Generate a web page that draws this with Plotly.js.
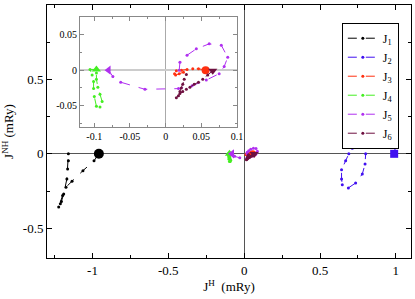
<!DOCTYPE html>
<html><head><meta charset="utf-8">
<script src="https://cdn.plot.ly/plotly-3.0.1.min.js"></script>
<style>html,body{margin:0;padding:0;background:#fff}#c{width:415px;height:299px}</style>
</head><body><div id="c"></div>
<script>
const names = ["J<sub>1</sub>","J<sub>2</sub>","J<sub>3</sub>","J<sub>4</sub>","J<sub>5</sub>","J<sub>6</sub>"];
const colors = ["#000000","#4010f0","#ff3010","#44ee22","#b030f0","#6e1040"];
const startSymbols = ["circle","square","circle","triangle-up","triangle-left","triangle-down"];

const J1_x = [-0.958,-0.99,-1.063,-1.135,-1.175,-1.197,-1.212,-1.223,-1.205,-1.19,-1.169,-1.164,-1.159,-1.159];
const J1_y = [0,-0.047,-0.113,-0.184,-0.224,-0.28,-0.335,-0.357,-0.32,-0.27,-0.169,-0.102,-0.047,0];
const J2_x = [0.989,0.996,0.982,0.94,0.90,0.85,0.80,0.753,0.713,0.69,0.669,0.642,0.642,0.647,0.687,0.735,0.779,0.797,0.801];
const J2_y = [0,0.04,0.08,0.142,0.142,0.135,0.109,0.076,0.038,0,-0.047,-0.107,-0.169,-0.207,-0.229,-0.196,-0.136,-0.069,0];
const J3_x = [0.056,0.046,0.038,0.030,0.022,0.015,0.0125,0.014,0.019,0.025];
const J3_y = [0,0.002,0.002,0.001,0.0,-0.001,-0.005,-0.007,-0.005,-0.003];
const J4_x = [-0.097,-0.106,-0.103,-0.101,-0.101,-0.100,-0.097,-0.092,-0.089,-0.092,-0.095,-0.097,-0.097];
const J4_y = [0.001,0.001,-0.007,-0.016,-0.026,-0.037,-0.051,-0.052,-0.044,-0.034,-0.024,-0.013,-0.004];
const J5_x = [-0.080,-0.074,-0.063,-0.029,0.018,0.037,0.057,0.075,0.082,0.087,0.078,0.061,0.043,0.030,0.020,0.019];
const J5_y = [0,-0.009,-0.017,-0.027,-0.026,-0.022,-0.014,-0.005,0.005,0.018,0.035,0.037,0.030,0.021,0.011,0.0];
const J6_x = [0.066,0.059,0.052,0.046,0.040,0.034,0.029,0.024,0.020,0.015,0.018,0.020,0.022,0.024,0.026,0.029];
const J6_y = [-0.001,-0.007,-0.013,-0.017,-0.020,-0.024,-0.027,-0.030,-0.033,-0.039,-0.036,-0.030,-0.025,-0.020,-0.013,-0.006];

const xs = [J1_x,J2_x,J3_x,J4_x,J5_x,J6_x];
const ys = [J1_y,J2_y,J3_y,J4_y,J5_y,J6_y];
const bigSize = [10,8,7,8,8,8];
const insetBigSize = [10,8,8,8,8,8];

const mainTickVals = [-1,-0.5,0,0.5,1];
const mainTickText = ["-1","-0.5","0","0.5","1"];
const mainYTickVals = [-0.5,0,0.5];
const mainYTickText = ["-0.5","0","0.5"];
const insetXTickVals = [-0.1,-0.05,0,0.05,0.1];
const insetXTickText = ["-0.1","-0.05","0","0.05","0.1"];
const insetYTickVals = [-0.05,0,0.05];
const insetYTickText = ["-0.05","0","0.05"];

const traces = [];
for (let i = 0; i < 6; i++) {
  traces.push({x: xs[i], y: ys[i], mode: "lines+markers", name: names[i],
    line: {color: colors[i], width: 1, dash: "dash"},
    marker: {color: colors[i], size: 3, symbol: "circle"},
    xaxis: "x", yaxis: "y", legendrank: i});
  traces.push({x: [xs[i][0]], y: [ys[i][0]], mode: "markers", showlegend: false,
    marker: {color: colors[i], size: bigSize[i], symbol: startSymbols[i]},
    xaxis: "x", yaxis: "y"});
}
for (let i = 2; i < 6; i++) {
  traces.push({x: xs[i], y: ys[i], mode: "lines+markers", showlegend: false,
    line: {color: colors[i], width: 1, dash: "dash"},
    marker: {color: colors[i], size: 3, symbol: "circle"},
    xaxis: "x2", yaxis: "y2"});
  traces.push({x: [xs[i][0]], y: [ys[i][0]], mode: "markers", showlegend: false,
    marker: {color: colors[i], size: insetBigSize[i], symbol: startSymbols[i]},
    xaxis: "x2", yaxis: "y2"});
}

const serif = "Liberation Serif, DejaVu Serif, serif";
const layout = {
  width: 415, height: 299,
  margin: {l: 47, r: 4, t: 5, b: 41},
  paper_bgcolor: "#fff", plot_bgcolor: "#fff",
  font: {family: serif, size: 13, color: "#000"},
  showlegend: true,
  legend: {x: 0.81, y: 0.93, xanchor: "left", yanchor: "top",
    bordercolor: "#000", borderwidth: 1, bgcolor: "#fff",
    font: {family: serif, size: 12}, itemwidth: 30, tracegroupgap: 0},
  xaxis: {range: [-1.3, 1.1], showgrid: false, zeroline: true, zerolinecolor: "#555", zerolinewidth: 1,
    showline: true, linecolor: "#000", linewidth: 1, mirror: "ticks",
    ticks: "inside", ticklen: 5, tickcolor: "#000",
    tickmode: "array", tickvals: mainTickVals, ticktext: mainTickText,
    minor: {tickvals: [-1.25,-0.75,-0.25,0.25,0.75], ticks: "inside", ticklen: 3, tickcolor: "#000"},
    title: {text: "J<sup>H</sup>  (mRy)", standoff: 4, font: {family: serif, size: 13}}},
  yaxis: {range: [-0.7, 1.0], showgrid: false, zeroline: true, zerolinecolor: "#555", zerolinewidth: 1,
    showline: true, linecolor: "#000", linewidth: 1, mirror: "ticks",
    ticks: "inside", ticklen: 5, tickcolor: "#000",
    tickmode: "array", tickvals: mainYTickVals, ticktext: mainYTickText,
    minor: {tickvals: [-0.25,0.25,0.75], ticks: "inside", ticklen: 3, tickcolor: "#000"},
    title: {text: "J<sup>NH</sup> (mRy)", standoff: 6, font: {family: serif, size: 13}}},
  xaxis2: {domain: [0.0907, 0.522], anchor: "y2", range: [-0.12, 0.1], showgrid: false,
    zeroline: true, zerolinecolor: "#aaa", zerolinewidth: 1,
    showline: true, linecolor: "#888", linewidth: 1, mirror: "ticks",
    ticks: "inside", ticklen: 4, tickcolor: "#888",
    tickmode: "array", tickvals: insetXTickVals, ticktext: insetXTickText,
    minor: {tickvals: [-0.075,-0.025,0.025,0.075], ticks: "inside", ticklen: 2, tickcolor: "#888"},
    tickfont: {family: serif, size: 10}},
  yaxis2: {domain: [0.518, 0.953], anchor: "x2", range: [-0.08, 0.075], showgrid: false,
    zeroline: true, zerolinecolor: "#ccc", zerolinewidth: 2,
    showline: true, linecolor: "#888", linewidth: 1, mirror: "ticks",
    ticks: "inside", ticklen: 4, tickcolor: "#888",
    tickmode: "array", tickvals: insetYTickVals, ticktext: insetYTickText,
    minor: {tickvals: [-0.075,-0.025,0.025], ticks: "inside", ticklen: 2, tickcolor: "#888"},
    tickfont: {family: serif, size: 10}}
};
Plotly.newPlot("c", traces, layout, {staticPlot: true, displayModeBar: false});
</script></body></html>
